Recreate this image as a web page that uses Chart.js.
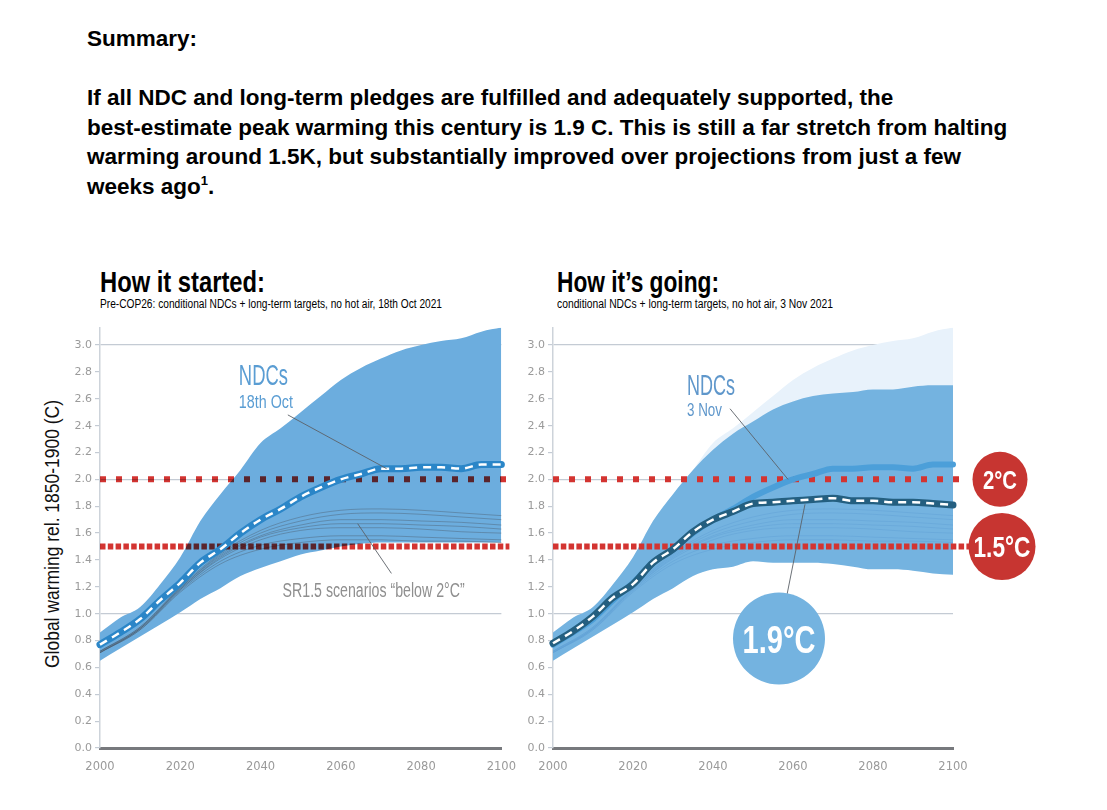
<!DOCTYPE html>
<html>
<head>
<meta charset="utf-8">
<script src="https://cdn.jsdelivr.net/npm/chart.js@4.4.1/dist/chart.umd.min.js"></script>
<style>
  body { margin: 0; width: 1107px; height: 810px; background: #fff; position: relative; overflow: hidden; }
  #summary { position: absolute; left: 87px; top: 24px; font-family: "Liberation Sans", Arial, sans-serif; font-weight: bold; font-size: 22.5px; line-height: 29.6px; color: #000; white-space: nowrap; }
  #summary sup { font-size: 13px; line-height: 0; vertical-align: 9px; }
  .fit { position: absolute; font-family: "Liberation Sans", Arial, sans-serif; color: #000; white-space: nowrap; transform-origin: left top; }
  .big { font-size: 29px; line-height: 29px; font-weight: bold; }
  .small { font-size: 12.5px; line-height: 13px; }
  #ytitle { position: absolute; font-family: "Liberation Sans", Arial, sans-serif; font-size: 20px; line-height: 22px; color: #111; white-space: nowrap; }
  .box { position: absolute; }
</style>
</head>
<body>
<div id="summary">Summary:<br><br>If all NDC and long-term pledges are fulfilled and adequately supported, the<br>best-estimate peak warming this century is 1.9 C. This is still a far stretch from halting<br>warming around 1.5K, but substantially improved over projections from just a few<br>weeks ago<sup>1</sup>.</div>

<div class="fit big" style="left:100px; top:268px" data-w="165">How it started:</div>
<div class="fit small" style="left:100px; top:298px" data-w="342">Pre-COP26: conditional NDCs + long-term targets, no hot air, 18th Oct 2021</div>
<div class="fit big" style="left:557px; top:268px" data-w="162">How it’s going:</div>
<div class="fit small" style="left:557px; top:298px" data-w="276">conditional NDCs + long-term targets, no hot air, 3 Nov 2021</div>
<div id="ytitle" data-cx="52" data-cy="534" data-len="268">Global warming rel. 1850-1900 (C)</div>

<div class="box" style="left:30px; top:318px; width:490px; height:457px"><canvas id="started"></canvas></div>
<div class="box" style="left:520px; top:318px; width:587px; height:457px"><canvas id="going"></canvas></div>

<script>
// years for the NDC medians and uncertainty bands
const years = [2000, 2005, 2010, 2015, 2020, 2025, 2030, 2035, 2040, 2045, 2050,
               2055, 2060, 2065, 2070, 2075, 2080, 2085, 2090, 2095, 2100]

// How it started (18 Oct)
const startedNdc   = [0.77, 0.86, 0.96, 1.10, 1.23, 1.38, 1.48, 1.60, 1.70, 1.78, 1.87,
                      1.94, 2.00, 2.04, 2.08, 2.08, 2.09, 2.09, 2.08, 2.11, 2.11]
const startedUpper = [0.86, 0.97, 1.05, 1.22, 1.42, 1.69, 1.89, 2.07, 2.27, 2.38, 2.50,
                      2.62, 2.74, 2.83, 2.90, 2.96, 3.00, 3.03, 3.05, 3.10, 3.13]
const startedLower = [0.65, 0.74, 0.83, 0.92, 1.01, 1.11, 1.19, 1.28, 1.34, 1.39, 1.44,
                      1.47, 1.50, 1.52, 1.53, 1.53, 1.53, 1.53, 1.53, 1.53, 1.53]

// How it's going (3 Nov)
const goingNdc   = [0.78, 0.87, 0.98, 1.12, 1.22, 1.38, 1.48, 1.61, 1.70, 1.76, 1.82,
                    1.83, 1.84, 1.85, 1.86, 1.84, 1.84, 1.83, 1.83, 1.82, 1.81]
const goingUpper = [0.86, 0.97, 1.05, 1.22, 1.42, 1.69, 1.89, 2.07, 2.22, 2.34, 2.43,
                    2.52, 2.58, 2.62, 2.64, 2.65, 2.67, 2.67, 2.69, 2.70, 2.70]
const goingLower = [0.65, 0.74, 0.83, 0.92, 1.01, 1.11, 1.19, 1.28, 1.33, 1.35, 1.39,
                    1.38, 1.38, 1.38, 1.37, 1.35, 1.33, 1.33, 1.32, 1.30, 1.29]

// SR1.5 "below 2°C" scenarios
const scenarioYears = [2000, 2010, 2020, 2030, 2040, 2050, 2060, 2070, 2080, 2090, 2100]
const scenario1 = [0.72, 0.90, 1.20, 1.45, 1.62, 1.72, 1.77, 1.78, 1.77, 1.75, 1.73]
const scenario2 = [0.72, 0.90, 1.19, 1.43, 1.58, 1.66, 1.70, 1.70, 1.69, 1.68, 1.66]
const scenario3 = [0.71, 0.89, 1.18, 1.41, 1.55, 1.62, 1.64, 1.64, 1.63, 1.61, 1.60]
const scenario4 = [0.71, 0.88, 1.17, 1.39, 1.51, 1.56, 1.58, 1.58, 1.57, 1.56, 1.55]
const scenario5 = [0.71, 0.88, 1.16, 1.37, 1.48, 1.53, 1.55, 1.55, 1.54, 1.54, 1.53]
const scenario6 = [0.72, 0.89, 1.19, 1.44, 1.60, 1.69, 1.74, 1.75, 1.74, 1.72, 1.70]
const scenario7 = [0.71, 0.89, 1.18, 1.42, 1.57, 1.64, 1.67, 1.67, 1.66, 1.65, 1.63]
const scenarios = [scenario1, scenario2, scenario3, scenario4, scenario5, scenario6, scenario7]

const targets = [2.0, 1.5]
const peakLabel = '1.9°C'

const pts = (xs, ys) => xs.map((x, i) => ({ x: x, y: ys[i] }))
const flat = (v, x0, x1) => [{ x: x0, y: v }, { x: x1, y: v }]

const face = '"Liberation Sans", Arial, sans-serif'

// squeeze the html titles to the condensed widths of the original
document.querySelectorAll('.fit').forEach(el => {
   const w = el.getBoundingClientRect().width
   el.style.transform = 'scaleX(' + (el.dataset.w / w) + ')'
})
const yt = document.getElementById('ytitle')
{
   const r = yt.getBoundingClientRect()
   yt.style.left = (yt.dataset.cx - r.width / 2) + 'px'
   yt.style.top = (yt.dataset.cy - r.height / 2) + 'px'
   yt.style.transform = 'rotate(-90deg) scaleX(' + (yt.dataset.len / r.width) + ')'
}

// let the red dotted lines darken the blue they cross (left panel)
const multiplyPlugin = {
   id: 'multiply',
   beforeDatasetDraw(chart, args) {
      if (chart.data.datasets[args.index].multiply) {
         chart.ctx.save()
         chart.ctx.globalCompositeOperation = 'multiply'
      }
   },
   afterDatasetDraw(chart, args) {
      if (chart.data.datasets[args.index].multiply) chart.ctx.restore()
   }
}

// labels, leader lines and the round badges, placed in data coordinates
const notesPlugin = {
   id: 'notes',
   afterDatasetsDraw(chart, args, opts) {
      const { ctx } = chart
      const x = chart.scales.x, y = chart.scales.y
      const px = v => x.getPixelForValue(v)
      const py = v => y.getPixelForValue(v)
      ctx.save()
      for (const l of opts.leaders || []) {
         ctx.beginPath()
         ctx.moveTo(px(l.from[0]), py(l.from[1]))
         ctx.lineTo(px(l.to[0]), py(l.to[1]))
         ctx.strokeStyle = '#5b6168'
         ctx.lineWidth = 0.9
         ctx.stroke()
      }
      for (const c of opts.circles || []) {
         ctx.beginPath()
         ctx.arc(px(c.at[0]), py(c.at[1]), c.r, 0, Math.PI * 2)
         ctx.fillStyle = c.color
         ctx.fill()
         ctx.font = 'bold ' + c.size + 'px ' + face
         ctx.fillStyle = '#fff'
         ctx.textAlign = 'center'
         ctx.textBaseline = 'alphabetic'
         ctx.fillText(c.text, px(c.at[0]), py(c.at[1]) + c.size * 0.36, c.width)
      }
      for (const t of opts.texts || []) {
         ctx.font = t.size + 'px ' + face
         ctx.fillStyle = t.color
         ctx.textAlign = 'left'
         ctx.textBaseline = 'alphabetic'
         ctx.fillText(t.text, px(t.at[0]), py(t.at[1]), t.width)
      }
      ctx.restore()
   }
}

function scalesFor(yWidth) {
   return {
      x: {
         type: 'linear', min: 2000, max: 2100,
         grid: { display: false },
         border: { color: '#77797d', width: 3 },
         ticks: {
            stepSize: 20, color: '#9a9a9a', padding: 4,
            font: { family: 'DejaVu Sans', size: 11.5 },
            callback: v => String(v)
         },
         afterFit(scale) { scale.height = 27 }
      },
      y: {
         min: 0, max: 3.13,
         grid: {
            color: c => [1, 2, 3].includes(Math.round(c.tick.value * 10) / 10) ? '#c4cbd4' : 'rgba(0,0,0,0)',
            lineWidth: 1.2,
            tickColor: '#c4cbd4',
            tickLength: 5
         },
         border: { color: '#cdd3da', width: 1.5 },
         ticks: {
            stepSize: 0.2, color: '#9a9a9a', padding: 3,
            font: { family: 'DejaVu Sans', size: 11 },
            callback: v => v.toFixed(1)
         },
         afterBuildTicks(scale) {
            scale.ticks = scale.ticks.filter(t => Math.abs(t.value * 5 - Math.round(t.value * 5)) < 1e-6)
         },
         afterFit(scale) { scale.width = yWidth }
      }
   }
}

const line = (data, color, width, extra) => Object.assign({
   data: data, borderColor: color, borderWidth: width, pointRadius: 0,
   fill: false, clip: false, cubicInterpolationMode: 'monotone', borderCapStyle: 'round'
}, extra || {})

// ---------- How it started ----------
const startedSets = [
   line(pts(years, startedNdc), '#ffffff', 2.5, { borderDash: [8, 6], borderCapStyle: 'butt', order: 1 }),
   line(pts(years, startedNdc), '#2b86c8', 7, { order: 2 }),
   line(flat(targets[0], 2000, 2102), '#d33431', 6, { borderDash: [6, 10], borderCapStyle: 'butt', multiply: true, order: 3 }),
   line(flat(targets[1], 2000, 2102), '#d33431', 6, { borderDash: [5.5, 2.3], borderCapStyle: 'butt', multiply: true, order: 3 }),
   ...scenarios.map(s => line(pts(scenarioYears, s), 'rgba(70,82,95,0.38)', 1, { order: 5, borderCapStyle: 'butt' })),
   line(pts(years, startedUpper), 'rgba(0,0,0,0)', 0, { fill: '+1', backgroundColor: '#6cadde', order: 10 }),
   line(pts(years, startedLower), 'rgba(0,0,0,0)', 0, { order: 11 })
]

new Chart(document.getElementById('started'), {
   type: 'line',
   data: { datasets: startedSets },
   plugins: [multiplyPlugin, notesPlugin],
   options: {
      responsive: true, maintainAspectRatio: false, animation: false,
      layout: { padding: { top: 7.5, right: 18, left: 0, bottom: 0 } },
      plugins: {
         legend: { display: false }, tooltip: { enabled: false },
         notes: {
            leaders: [
               { from: [2046.8, 2.48], to: [2071.4, 2.08] },
               { from: [2064.2, 1.67], to: [2072.6, 1.30] }
            ],
            texts: [
               { text: 'NDCs', at: [2034.6, 2.70], size: 29, width: 49, color: '#5a9dd3' },
               { text: '18th Oct', at: [2034.6, 2.53], size: 18, width: 54, color: '#5a9dd3' },
               { text: 'SR1.5 scenarios “below 2°C”', at: [2045.5, 1.126], size: 19.5, width: 182, color: '#8f8f8f' }
            ]
         }
      },
      scales: scalesFor(70)
   }
})

// ---------- How it's going ----------
const goingSets = [
   line(pts(years, goingNdc), '#ffffff', 2.5, { borderDash: [8, 6], borderCapStyle: 'butt', order: 1 }),
   line(pts(years, goingNdc), '#245f80', 7, { order: 2 }),
   line(pts(years, startedNdc), '#4c9fd9', 6, { order: 3 }),
   line(flat(targets[0], 2000, 2102), '#d33431', 6, { borderDash: [6, 10], borderCapStyle: 'butt', order: 4 }),
   line(flat(targets[1], 2000, 2110), '#d33431', 6, { borderDash: [5.5, 2.3], borderCapStyle: 'butt', order: 4 }),
   ...scenarios.map(s => line(pts(scenarioYears, s), 'rgba(95,160,212,0.45)', 1, { order: 6, borderCapStyle: 'butt' })),
   line(pts(years, goingUpper), 'rgba(0,0,0,0)', 0, { fill: '+1', backgroundColor: '#74b3e0', order: 10 }),
   line(pts(years, goingLower), 'rgba(0,0,0,0)', 0, { order: 11 }),
   line(pts(years, startedUpper), 'rgba(0,0,0,0)', 0, { fill: '+1', backgroundColor: '#e8f2fb', order: 12 }),
   line(pts(years, startedLower), 'rgba(0,0,0,0)', 0, { order: 13 })
]

new Chart(document.getElementById('going'), {
   type: 'line',
   data: { datasets: goingSets },
   plugins: [notesPlugin],
   options: {
      responsive: true, maintainAspectRatio: false, animation: false,
      layout: { padding: { top: 7.5, right: 154, left: 0, bottom: 0 } },
      plugins: {
         legend: { display: false }, tooltip: { enabled: false },
         notes: {
            leaders: [
               { from: [2044.25, 2.526], to: [2058.75, 2.0] },
               { from: [2063, 1.815], to: [2058.25, 1.104] }
            ],
            circles: [
               { at: [2056.5, 0.815], r: 46, color: '#74b3e0', text: peakLabel, size: 39, width: 73 },
               { at: [2111.75, targets[0]], r: 27.5, color: '#c73531', text: '2°C', size: 26.5, width: 34 },
               { at: [2112.25, targets[1]], r: 33.5, color: '#c73531', text: '1.5°C', size: 30, width: 57 }
            ],
            texts: [
               { text: 'NDCs', at: [2033.5, 2.63], size: 29, width: 48, color: '#5f97cb' },
               { text: '3 Nov', at: [2033.5, 2.47], size: 18, width: 35, color: '#5f97cb' }
            ]
         }
      },
      scales: scalesFor(33)
   }
})
</script>
</body>
</html>
